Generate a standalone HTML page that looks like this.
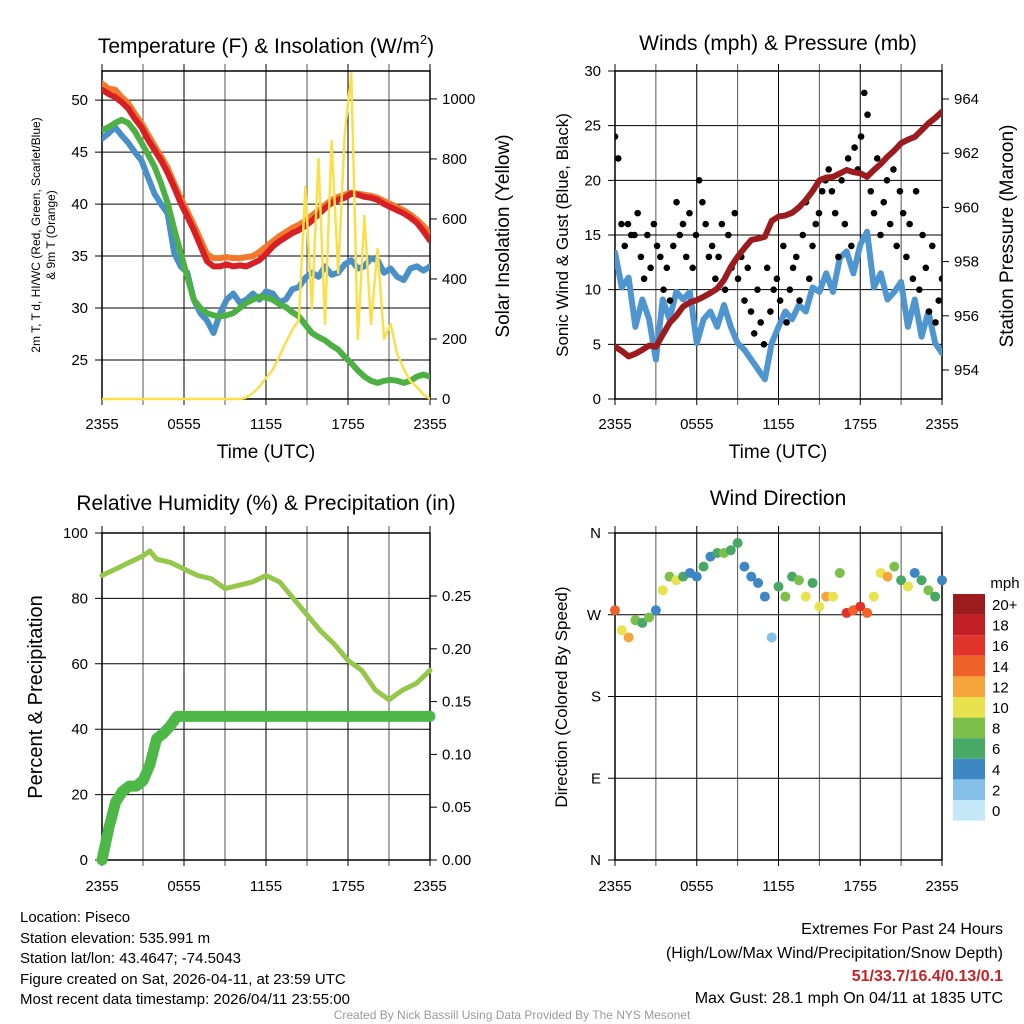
<!DOCTYPE html>
<html><head><meta charset="utf-8"><style>
html,body{margin:0;padding:0;background:#fff;}
svg{display:block;font-family:"Liberation Sans",sans-serif;}
</style></head><body>
<svg id="c" width="1024" height="1024" viewBox="0 0 1024 1024">
<g id="g"></g>
<g font-size="15" fill="#000">
<text x="20" y="922">Location: Piseco</text>
<text x="20" y="943">Station elevation: 535.991 m</text>
<text x="20" y="963">Station lat/lon: 43.4647; -74.5043</text>
<text x="20" y="984">Figure created on Sat, 2026-04-11, at 23:59 UTC</text>
<text x="20" y="1004">Most recent data timestamp: 2026/04/11 23:55:00</text>
</g>
<g font-size="16" text-anchor="end">
<text x="1003" y="934">Extremes For Past 24 Hours</text>
<text x="1003" y="958">(High/Low/Max Wind/Precipitation/Snow Depth)</text>
<text x="1003" y="981" fill="#cc1f26" font-weight="bold">51/33.7/16.4/0.13/0.1</text>
<text x="1003" y="1003">Max Gust: 28.1 mph On 04/11 at 1835 UTC</text>
</g>
<text x="512" y="1019" text-anchor="middle" font-size="12" fill="#999">Created By Nick Bassill Using Data Provided By The NYS Mesonet</text>
</svg>
<script>
// ---------- data (half-hourly, hour 0..24 from 2355 UTC) ----------
const xTickLabels = ["2355","0555","1155","1755","2355"];
const tempRed = [51.0,50.6,50.3,49.8,49.2,48.2,47.4,46.2,45.2,44.2,43.0,41.6,40.1,38.8,37.5,36.0,34.5,34.0,34.0,34.2,34.0,34.1,34.0,34.3,34.6,35.2,35.9,36.4,36.8,37.2,37.5,37.9,38.4,39.0,39.6,40.1,40.4,40.6,41.0,40.9,40.7,40.6,40.4,40.0,39.7,39.4,39.1,38.7,38.2,37.4,36.5];
const tempOrange = [51.6,51.1,51.0,50.3,49.7,48.7,47.8,46.7,45.6,44.6,43.5,42.0,40.6,39.3,38.0,36.6,35.2,34.8,34.8,34.9,34.8,34.8,34.9,35.0,35.4,35.9,36.4,36.9,37.3,37.7,38.0,38.4,38.9,39.4,39.9,40.4,40.7,40.9,41.1,41.0,40.9,40.8,40.6,40.3,40.0,39.7,39.4,39.0,38.5,37.9,37.2];
const tempGreen = [47.1,47.4,47.8,48.1,47.8,47.0,45.9,44.8,43.6,42.0,40.1,37.6,35.3,33.0,30.8,30.0,29.5,29.3,29.2,29.3,29.5,30.0,30.5,30.8,31.1,31.0,30.8,30.4,30.1,29.6,29.2,28.4,27.6,27.2,26.9,26.4,26.0,25.3,24.7,24.0,23.4,23.0,22.8,23.0,23.1,23.0,22.8,23.0,23.4,23.6,23.4];
const tempBlue = [46.3,46.8,47.4,46.6,45.9,45.0,44.2,42.6,41.0,40.0,39.1,35.3,34.0,33.4,30.8,29.5,28.8,27.6,29.5,30.8,31.4,30.5,30.8,31.4,30.8,31.6,31.4,30.6,30.8,31.8,32.0,32.9,33.4,33.0,34.0,33.2,33.4,34.2,34.6,33.8,34.0,34.8,34.6,33.4,33.8,33.0,32.7,33.8,34.0,33.6,34.0];
const solar = [0,0,0,0,0,0,0,0,0,0,0,0,0,0,0,0,0,0,0,0,0,0,5,20,41,70,97,140,187,230,263,707,300,800,250,860,420,880,1085,200,610,250,500,200,250,150,100,60,40,15,0];
const windSonic = [13.4,10.2,11.1,6.6,9.1,7.3,3.6,9.1,7.3,9.8,9.1,9.8,5.1,7.3,8.0,6.6,8.6,6.6,5.1,4.5,3.6,2.7,1.8,5.1,6.6,8.0,7.3,8.6,8.0,10.2,9.8,11.5,9.8,12.9,13.5,11.5,14.1,15.3,10.2,11.5,9.1,9.8,10.7,6.6,9.1,5.7,8.0,5.1,4.2];
const pressure = [954.86,954.7,954.5,954.6,954.74,954.9,954.86,955.3,955.73,956.0,956.34,956.5,956.58,956.7,956.84,957.0,957.32,957.8,958.18,958.5,958.8,958.85,958.92,959.5,959.66,959.7,959.8,960.0,960.27,960.6,961.0,961.1,961.13,961.25,961.38,961.3,961.26,961.13,961.38,961.6,961.87,962.1,962.37,962.5,962.6,962.85,963.1,963.3,963.53];
const gusts = [24,22,16,14,16,15,15,17,13,11,15,12,16,14,13,10,12,9,14,18,15,16,13,17,12,15,20,18,16,13,14,11,13,16,10,15,12,17,11,13,9,12,8,6,10,7,5,12,8,10,11,9,14,7,10,12,13,9,15,18,11,14,16,17,19,20,21,19,17,13,20,16,22,14,23,21,24,28,26,19,17,22,15,18,20,16,21,14,19,17,13,16,11,19,10,15,12,8,14,7,9,11];
const rh = [87,88,89,90,91,92,93,94.5,92,91.5,91,90,89,88,87,86.5,86,84.5,83,83.5,84,84.5,85,86,87,86,85,82.5,80,77.5,75,72.5,70,68,66,63.5,61,59.5,58,55,52,50.5,49,50.5,52,53,54,56,58];
const precip = [0,0.03,0.055,0.065,0.07,0.07,0.075,0.09,0.115,0.12,0.127,0.136,0.136,0.136,0.136,0.136,0.136,0.136,0.136,0.136,0.136,0.136,0.136,0.136,0.136,0.136,0.136,0.136,0.136,0.136,0.136,0.136,0.136,0.136,0.136,0.136,0.136,0.136,0.136,0.136,0.136,0.136,0.136,0.136,0.136,0.136,0.136,0.136,0.136];
const windDir = [275,253,245,264,261,267,275,297,312,308,312,316,312,323,334,338,338,341,349,323,312,305,290,245,301,290,312,308,290,305,279,290,290,316,272,275,279,272,290,316,312,323,308,301,316,308,297,290,308];
const dirSpeed = [13,10,12,8,6,8,4,10,8,9,6,4,4,6,4,6,8,6,6,4,4,4,4,1,6,7,6,8,9,6,10,12,10,8,15,13,16,14,10,10,12,8,6,9,4,6,7,6,4];
const cbLabels = ["20+","18","16","14","12","10","8","6","4","2","0"];
const cbColors = ["#9b1b1e","#c21f25","#e0332b","#ef6229","#f6a43c","#e8e24f","#7cc04b","#48a866","#3f87c4","#86c0e8","#c5e8f8"];

// ---------- helpers ----------
const NS="http://www.w3.org/2000/svg";
const G=document.getElementById('g');
function el(tag,attrs,parent,txt){const e=document.createElementNS(NS,tag);for(const k in attrs)e.setAttribute(k,attrs[k]);if(txt!==undefined)e.textContent=txt;(parent||G).appendChild(e);return e;}
function lin(d0,d1,r0,r1){return v=>r0+(v-d0)*(r1-r0)/(d1-d0);}
function colorFor(s){const i=Math.min(10,Math.max(0,Math.round(s/2)));return cbColors[10-i];}

function panel(name,L,R,T,B,yTicks,yFmt,yScale,rTicks,rFmt,rScale,xLabelY){
  const g=el('g',{},G);
  
  
  const xs=lin(0,24,L,R);
  const grid=el('g',{stroke:'#000','stroke-width':1},g);
  
  
  for(let h=0;h<=24;h+=3){const x=xs(h);el('line',{x1:x,x2:x,y1:T-7,y2:B+6,stroke:(h%6==0)?'#000':'#555'},grid);}
  yTicks.forEach(v=>{const y=yScale(v);el('line',{x1:L-7,x2:R,y1:y,y2:y},grid);});
  rTicks.forEach(v=>{const y=rScale(v);el('line',{x1:R,x2:R+7,y1:y,y2:y},grid);});
  el('rect',{x:L,y:T,width:R-L,height:B-T,fill:'none',stroke:'#000','stroke-width':1.5},g);
  const xl=el('g',{'font-size':15,'text-anchor':'middle'},g);
  
  
  xTickLabels.forEach((t,i)=>el('text',{x:xs(i*6),y:xLabelY},xl,t));
  const yl=el('g',{'font-size':15,'text-anchor':'end'},g);
  
  
  yTicks.forEach(v=>el('text',{x:L-14,y:yScale(v)+5},yl,yFmt(v)));
  const rl=el('g',{'font-size':15},g);
  
  
  rTicks.forEach(v=>el('text',{x:R+12,y:rScale(v)+5},rl,rFmt(v)));
  return {g,xs};
}
function line(parent,name,arr,xs,ys,color,w){
  const n=arr.length-1;
  const pts=arr.map((v,i)=>xs(i*24/n).toFixed(1)+','+ys(v).toFixed(1)).join(' ');
  const p=el('polyline',{points:pts,fill:'none',stroke:color,'stroke-width':w,'stroke-linejoin':'round','stroke-linecap':'round'},parent);
  
  
}
function title(x,y,txt,name,size){const t=el('text',{x:x,y:y,'text-anchor':'middle','font-size':size||21},G,txt);return t;}
function vtitle(x,y,txt,name,size){const t=el('text',{x:x,y:y,'text-anchor':'middle','font-size':size,transform:`rotate(-90 ${x} ${y})`},G,txt);return t;}

// ---------- Panel 1: temperature ----------
{
 const L=102,R=430,T=71,B=399;
 const ys=lin(21.25,52.8,B,T), rs=lin(0,1093,B,T);
 const p=panel('temperature-panel',L,R,T,B,[25,30,35,40,45,50],v=>v,ys,[0,200,400,600,800,1000],v=>v,rs,429);
 const clip=el('clipPath',{id:'c1'},p.g);el('rect',{x:L,y:T-2,width:R-L,height:B-T+4},clip);
 const s=el('g',{'clip-path':'url(#c1)'},p.g);
 line(s,'temp-9m-orange-line',tempOrange,p.xs,ys,'#f3782a',6);
 line(s,'temp-2m-red-line',tempRed,p.xs,ys,'#d62026',6);
 line(s,'hiwc-blue-line',tempBlue,p.xs,ys,'#4a90c8',6);
 line(s,'dewpoint-green-line',tempGreen,p.xs,ys,'#4cb044',6);
 line(s,'solar-insolation-line',solar,p.xs,rs,'#f9e04b',2.5);
 const t=title(266,53,'Temperature (F) & Insolation (W/m','temperature-title');
 el('tspan',{dy:-9,'font-size':13},t,'2');el('tspan',{dy:9},t,')');
 title(266,458,'Time (UTC)','temperature-x-axis-title',19);
 vtitle(40,235,'2m T, T\u2009d, HI/WC (Red, Green, Scarlet/Blue)','temperature-y-axis-title',12);
 vtitle(55,235,'& 9m T (Orange)','temperature-y-axis-title-2',12);
 vtitle(509,236,'Solar Insolation (Yellow)','solar-y-axis-title',19);
}
// ---------- Panel 2: winds ----------
{
 const L=615,R=942,T=71,B=399;
 const ys=lin(0,30,B,T), rs=lin(954,964,370,99);
 const p=panel('winds-panel',L,R,T,B,[0,5,10,15,20,25,30],v=>v,ys,[954,956,958,960,962,964],v=>v,rs,429);
 const clip=el('clipPath',{id:'c2'},p.g);el('rect',{x:L,y:T,width:R-L,height:B-T},clip);
 const s=el('g',{'clip-path':'url(#c2)'},p.g);
 line(s,'sonic-wind-line',windSonic,p.xs,ys,'#4f95d0',6);
 const gd=el('g',{fill:'#000'},s);
 
 
 gusts.forEach((v,i)=>{const c=el('circle',{cx:p.xs(i*24/(gusts.length-1)),cy:ys(v),r:3.3},gd);
  
  });
 line(s,'pressure-line',pressure,p.xs,rs,'#9b1b1e',6);
 title(778,50,'Winds (mph) & Pressure (mb)','winds-title');
 title(778,458,'Time (UTC)','winds-x-axis-title',19);
 vtitle(568,235,'Sonic Wind & Gust (Blue, Black)','wind-y-axis-title',17);
 vtitle(1013,236,'Station Pressure (Maroon)','pressure-y-axis-title',19);
}
// ---------- Panel 3: RH ----------
{
 const L=102,R=430,T=533,B=860;
 const ys=lin(0,100,B,T), rs=lin(0,0.25,B,596);
 const p=panel('humidity-panel',L,R,T,B,[0,20,40,60,80,100],v=>v,ys,[0,0.05,0.10,0.15,0.20,0.25],v=>v.toFixed(2),rs,891);
 line(p.g,'precipitation-line',precip,p.xs,rs,'#4db847',11);
 line(p.g,'relative-humidity-line',rh,p.xs,ys,'#95c84a',5);
 title(266,510,'Relative Humidity (%) & Precipitation (in)','humidity-title');
 vtitle(42,697,'Percent & Precipitation','humidity-y-axis-title',20);
}
// ---------- Panel 4: wind direction ----------
{
 const L=615,R=942,T=533,B=860;
 const ys=lin(0,360,B,T);
 const p=panel('wind-direction-panel',L,R,T,B,[0,90,180,270,360],v=>['N','E','S','W','N'][v/90],ys,[],v=>v,ys,891);
 const dd=el('g',{},p.g);
 
 
 windDir.forEach((v,i)=>{const c=el('circle',{cx:p.xs(i*24/(windDir.length-1)),cy:ys(v),r:5,fill:colorFor(dirSpeed[i])},dd);
  
  });
 title(778,505,'Wind Direction','wind-direction-title');
 vtitle(567,697,'Direction (Colored By Speed)','direction-y-axis-title',17);
 const cb=el('g',{},G);
 
 
 el('text',{x:1005,y:588,'font-size':15,'text-anchor':'middle'},cb,'mph');
 cbColors.forEach((c,i)=>{el('rect',{x:953,y:594+i*20.6,width:32,height:20.6,fill:c},cb);
  el('text',{x:992,y:610+i*20.6,'font-size':15},cb,cbLabels[i]);});
}
</script>
</body></html>
